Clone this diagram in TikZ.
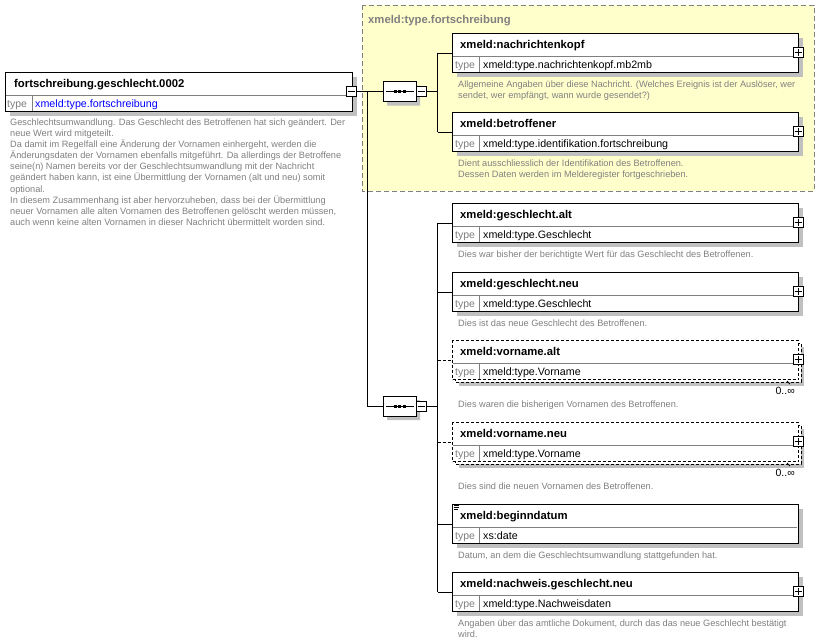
\documentclass[tikz,border=0pt]{standalone}
\usepackage{fontspec}
\setmainfont{Liberation Sans}
\usetikzlibrary{shapes.misc}
\definecolor{shadowc}{HTML}{C0C0C0}
\definecolor{desccol}{HTML}{808080}
\definecolor{yellowbg}{HTML}{FFFFCC}
\definecolor{linkblue}{HTML}{0000FF}
\tikzset{
  elbox/.style={draw=black, fill=white, line width=1pt, minimum width=346pt, minimum height=39pt, inner sep=0pt, anchor=north west},
  nametext/.style={font=\fontsize{11.3}{13}\selectfont\bfseries, anchor=base west, inner sep=0pt},
  typelabel/.style={font=\fontsize{10.5}{12}\selectfont, text=desccol, anchor=base west, inner sep=0pt},
  typetext/.style={font=\fontsize{10.7}{12}\selectfont, anchor=base west, inner sep=0pt},
  desc/.style={font=\fontsize{9.2}{11.1}\selectfont, text=desccol, align=left, anchor=north west, inner sep=0pt},
  mult/.style={font=\fontsize{10.5}{12}\selectfont, text=black, anchor=base east, inner sep=0pt},
  pmbox/.style={draw=black, fill=white, line width=1pt, minimum size=10pt, inner sep=0pt},
  conn/.style={draw=black, line width=1pt},
  optconn/.style={draw=black, line width=1pt, dash pattern=on 3pt off 2pt},
  optdash/.style={dash pattern=on 3pt off 2pt},
  divline/.style={draw=desccol, line width=1pt},
  seqshape/.style={chamfered rectangle, chamfered rectangle xsep=5pt, chamfered rectangle ysep=5pt, minimum width=33pt, minimum height=20pt, inner sep=0pt, draw=black, fill=white, line width=1pt},
}
% element box: id, top, name, type, plus flag, description
\newcommand\xsdel[6]{%
  \fill[shadowc] (457,#2+5) rectangle (803,#2+44);
  \node[elbox] (#1) at (452,#2) {};
  \draw[divline] (453,#2+23) -- (797,#2+23);
  \draw[divline] (479,#2+23) -- (479,#2+38.5);
  \node[nametext] (#1n) at (460,#2+15) {#3};
  \node[typelabel] (#1l) at (455,#2+35) {type};
  \node[typetext] (#1t) at (483,#2+35) {#4};
  \ifnum#5=1
    \node[pmbox] (#1p) at (798,#2+19.5) {};
    \draw[line width=1pt] ([xshift=2pt]#1p.west) -- ([xshift=-2pt]#1p.east);
    \draw[line width=1pt] ([yshift=-2pt]#1p.north) -- ([yshift=2pt]#1p.south);
  \fi
  \node[desc] (#1d) at (458,#2+46.5) {\strut#6};
}
% optional repeating element: id, top, name, type, description
\newcommand\xsdopt[5]{%
  \fill[shadowc] (459,#2+7) rectangle (804,#2+46);
  \draw[black, line width=1pt, optdash, fill=white] (455,#2+3) rectangle (801,#2+42);
  \node[elbox, optdash] (#1) at (452,#2) {};
  \draw[divline] (453,#2+23) -- (797,#2+23);
  \draw[divline] (479,#2+23) -- (479,#2+38.5);
  \node[nametext] (#1n) at (460,#2+15) {#3};
  \node[typelabel] (#1l) at (455,#2+35) {type};
  \node[typetext] (#1t) at (483,#2+35) {#4};
  \node[pmbox] (#1p) at (798,#2+19.5) {};
  \draw[line width=1pt] ([xshift=2pt]#1p.west) -- ([xshift=-2pt]#1p.east);
  \draw[line width=1pt] ([yshift=-2pt]#1p.north) -- ([yshift=2pt]#1p.south);
  \draw[line width=0.8pt] (787,#2+41) -- (790,#2+44);
  \node[mult] (#1m) at (795,#2+54) {0..∞};
  \node[desc] (#1d) at (458,#2+59.5) {\strut#5};
}
\newcommand\seqsym[3]{% id, x center, y center
  \node[seqshape, fill=shadowc, draw=none] (#1s) at (#2+4,#3+4) {};
  \node[seqshape] (#1) at (#2,#3) {};
  \draw[line width=1pt] ([xshift=3pt]#1.west) -- ([xshift=-3pt]#1.east);
  \fill ([xshift=-4.5pt]#1.center) +(-1.5pt,-1.5pt) rectangle +(1.5pt,1.5pt);
  \fill (#1.center) +(-1.5pt,-1.5pt) rectangle +(1.5pt,1.5pt);
  \fill ([xshift=4.5pt]#1.center) +(-1.5pt,-1.5pt) rectangle +(1.5pt,1.5pt);
  \node[pmbox] (#1m) at (#2+21.5,#3) {};
  \draw[line width=1pt] ([xshift=2pt]#1m.west) -- ([xshift=-2pt]#1m.east);
}
\begin{document}
\begin{tikzpicture}[x=1pt,y=-1pt]
\useasboundingbox[fill=white] (0,0) rectangle (836,643);

% complex type group
\draw[desccol, line width=1pt, dash pattern=on 5pt off 3pt, fill=yellowbg] (362,5) rectangle (814,191);
\node[font=\fontsize{11.3}{13}\selectfont\bfseries, text=desccol, anchor=base west, inner sep=0pt] (ytitle) at (368,23) {xmeld:type.fortschreibung};

% root element
\fill[shadowc] (10,77) rectangle (357,116);
\node[elbox, minimum width=347pt] (root) at (5,72) {};
\draw[divline] (6,95) -- (351,95);
\draw[divline] (32,95) -- (32,110.5);
\node[nametext] (rootn) at (14,87) {fortschreibung.geschlecht.0002};
\node[typelabel] (rootl) at (7,107) {type};
\node[typetext, text=linkblue] (roott) at (35,107) {xmeld:type.fortschreibung};
\node[pmbox] (rm) at (351.5,91.5) {};
\draw[line width=1pt] ([xshift=2pt]rm.west) -- ([xshift=-2pt]rm.east);
\node[desc] (rootd) at (10,117.5) {\strut Geschlechtsumwandlung. Das Geschlecht des Betroffenen hat sich geändert. Der\\neue Wert wird mitgeteilt.\\Da damit im Regelfall eine Änderung der Vornamen einhergeht, werden die\\Änderungsdaten der Vornamen ebenfalls mitgeführt. Da allerdings der Betroffene\\seine(n) Namen bereits vor der Geschlechtsumwandlung mit der Nachricht\\geändert haben kann, ist eine Übermittlung der Vornamen (alt und neu) somit\\optional.\\In diesem Zusammenhang ist aber hervorzuheben, dass bei der Übermittlung\\neuer Vornamen alle alten Vornamen des Betroffenen gelöscht werden müssen,\\auch wenn keine alten Vornamen in dieser Nachricht übermittelt worden sind.};

% sequences
\seqsym{sa}{399.5}{91.5}
\seqsym{sb}{399.5}{406}

% elements of the type
\xsdel{nk}{33}{xmeld:nachrichtenkopf}{xmeld:type.nachrichtenkopf.mb2mb}{1}{Allgemeine Angaben über diese Nachricht. (Welches Ereignis ist der Auslöser, wer\\sendet, wer empfängt, wann wurde gesendet?)}
\xsdel{bt}{112}{xmeld:betroffener}{xmeld:type.identifikation.fortschreibung}{1}{Dient ausschliesslich der Identifikation des Betroffenen.\\Dessen Daten werden im Melderegister fortgeschrieben.}

% further elements
\xsdel{ga}{203}{xmeld:geschlecht.alt}{xmeld:type.Geschlecht}{1}{Dies war bisher der berichtigte Wert für das Geschlecht des Betroffenen.}
\xsdel{gn}{272}{xmeld:geschlecht.neu}{xmeld:type.Geschlecht}{1}{Dies ist das neue Geschlecht des Betroffenen.}
\xsdopt{va}{340}{xmeld:vorname.alt}{xmeld:type.Vorname}{Dies waren die bisherigen Vornamen des Betroffenen.}
\xsdopt{vn}{422}{xmeld:vorname.neu}{xmeld:type.Vorname}{Dies sind die neuen Vornamen des Betroffenen.}
\xsdel{bd}{504}{xmeld:beginndatum}{xs:date}{0}{Datum, an dem die Geschlechtsumwandlung stattgefunden hat.}
\xsdel{nw}{572}{xmeld:nachweis.geschlecht.neu}{xmeld:type.Nachweisdaten}{1}{Angaben über das amtliche Dokument, durch das das neue Geschlecht bestätigt\\wird.}
% simple content icon
\draw[line width=0.8pt] (454,505.5) -- (459,505.5) (454,507.5) -- (459,507.5) (454,509.5) -- (458,509.5);

% connectors
\coordinate (rj) at (367,91.5);
\draw[conn] (rm.east) -- (sa.west);
\draw[conn] (rj) |- (sb.west);
\draw[conn] (sa.east) -- (sam.west);
\draw[conn] (sb.east) -- (sbm.west);
\draw[conn] (sam.east) -- ++(11,0) coordinate (ja);
\draw[conn] (ja |- nk.west) -- (ja |- bt.west);
\draw[conn] (ja |- nk.west) -- (nk.west);
\draw[conn] (ja |- bt.west) -- (bt.west);
\draw[conn] (sbm.east) -- ++(11,0) coordinate (jb);
\draw[conn] (jb |- ga.west) -- (jb |- nw.west);
\draw[conn] (jb |- ga.west) -- (ga.west);
\draw[conn] (jb |- gn.west) -- (gn.west);
\draw[optconn] (jb |- va.west) -- (va.west);
\draw[optconn] (jb |- vn.west) -- (vn.west);
\draw[conn] (jb |- bd.west) -- (bd.west);
\draw[conn] (jb |- nw.west) -- (nw.west);
\end{tikzpicture}
\end{document}
